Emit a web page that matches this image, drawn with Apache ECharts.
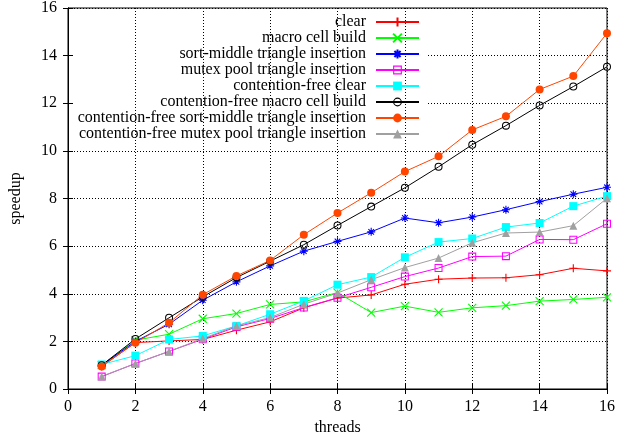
<!DOCTYPE html>
<html>
<head>
	<meta charset="utf-8">
	<title>speedup</title>
	<script type="text/javascript" src="https://cdn.jsdelivr.net/npm/echarts@6/dist/echarts.min.js"></script>
	<style>
		html, body { margin: 0; padding: 0; background: #fff; }
		#DIV1 { width: 618px; height: 441px; }
	</style>
</head>
<body>
	<div id="DIV1"></div>
	<script type="text/javascript">

		// values
		const threads = [1, 2, 3, 4, 5, 6, 7, 8, 9, 10, 11, 12, 13, 14, 15, 16];
		const clear = [0.95, 1.95, 2.02, 2.08, 2.47, 2.82, 3.41, 3.82, 3.95, 4.40, 4.61, 4.66, 4.67, 4.80, 5.07, 4.96];
		const macroCellBuild = [1.0, 2.05, 2.30, 2.95, 3.17, 3.55, 3.66, 4.05, 3.21, 3.48, 3.22, 3.41, 3.50, 3.69, 3.76, 3.85];
		const sortMiddle = [1.0, 2.0, 2.72, 3.73, 4.50, 5.17, 5.79, 6.20, 6.60, 7.18, 6.98, 7.22, 7.53, 7.87, 8.18, 8.47];
		const mutexPool = [0.52, 1.07, 1.58, 2.09, 2.61, 2.96, 3.42, 3.83, 4.27, 4.72, 5.08, 5.56, 5.58, 6.28, 6.27, 6.94];
		const cfClear = [1.03, 1.40, 2.08, 2.23, 2.65, 3.14, 3.70, 4.38, 4.70, 5.53, 6.17, 6.32, 6.80, 6.97, 7.68, 8.10];
		const cfMacroCellBuild = [1.0, 2.10, 2.99, 3.87, 4.68, 5.37, 6.06, 6.87, 7.66, 8.45, 9.33, 10.26, 11.06, 11.91, 12.70, 13.53];
		const cfSortMiddle = [0.95, 1.94, 2.78, 3.96, 4.75, 5.40, 6.48, 7.39, 8.24, 9.13, 9.77, 10.88, 11.45, 12.58, 13.14, 14.94];
		const cfMutexPool = [0.53, 1.07, 1.58, 2.12, 2.65, 3.00, 3.56, 4.03, 4.59, 5.10, 5.50, 6.14, 6.55, 6.59, 6.86, 8.01];

		const seriesNames = [
			"clear",
			"macro cell build",
			"sort-middle triangle insertion",
			"mutex pool triangle insertion",
			"contention-free clear",
			"contention-free macro cell build",
			"contention-free sort-middle triangle insertion",
			"contention-free mutex pool triangle insertion"
		];
		const seriesValues = [clear, macroCellBuild, sortMiddle, mutexPool, cfClear, cfMacroCellBuild, cfSortMiddle, cfMutexPool];
		const seriesColors = ["#ff0000", "#00ff00", "#0000ff", "#ff00ff", "#00ffff", "#000000", "#ff4500", "#a0a0a0"];

		// gnuplot-like point types
		const PLUS = "path://M5,0L5,10M0,5L10,5";
		const CROSS = "path://M0,0L10,10M10,0L0,10";
		const STAR = "path://M5,0L5,10M0,5L10,5M1.5,1.5L8.5,8.5M8.5,1.5L1.5,8.5";
		const BOX = "path://M0,0H10V10H0ZM1.3,1.3V8.7H8.7V1.3Z";
		const RING = "path://M5,0A5,5,0,1,1,5,10A5,5,0,1,1,5,0ZM5,1.3A3.7,3.7,0,1,0,5,8.7A3.7,3.7,0,1,0,5,1.3Z";
		const seriesSymbols = [PLUS, CROSS, STAR, BOX, "rect", RING, "circle", "triangle"];
		const strokedSymbol = [true, true, true, false, false, false, false, false];

		const FONT = "Liberation Serif";
		const FS = 16;
		const chart = echarts.init(document.getElementById("DIV1"));

		const series = seriesNames.map(function(name, i){
			return {
				name: name,
				type: "line",
				data: threads.map(function(t, k){ return [t, seriesValues[i][k]]; }),
				symbol: seriesSymbols[i],
				symbolSize: 8,
				showAllSymbol: true,
				lineStyle: { color: seriesColors[i], width: 1 },
				itemStyle: {
					color: seriesColors[i],
					borderColor: seriesColors[i],
					borderWidth: strokedSymbol[i] ? 1.1 : 0
				},
				emphasis: { disabled: true },
				z: 3
			};
		});

		const gridDash = { color: "#000", width: 1, type: [1, 2] };

		const option = {
			animation: false,
			backgroundColor: "#fff",
			textStyle: { fontFamily: FONT },
			grid: {
				left: 67, top: 7, right: 10, bottom: 52,
				show: true, borderColor: "#000", borderWidth: 1, backgroundColor: "transparent"
			},
			legend: {
				orient: "vertical",
				right: 193,
				top: 9,
				align: "right",
				itemWidth: 43,
				itemHeight: 11,
				itemGap: 0,
				textStyle: { fontFamily: FONT, fontSize: FS, color: "#000", lineHeight: 16, padding: [0, 5, 0, 0] },
				data: seriesNames,
				z: 5
			},
			graphic: [{
				type: "rect",
				z: 1,
				shape: { x: 73, y: 10, width: 354, height: 130 },
				style: { fill: "#fff" },
				silent: true
			}],
			xAxis: [{
				type: "value", position: "bottom", min: 0, max: 16, interval: 2, z: 2,
				name: "threads", nameLocation: "middle", nameGap: 31,
				nameTextStyle: { fontFamily: FONT, fontSize: FS, color: "#000" },
				axisLine: { show: true, lineStyle: { color: "#000", width: 1 } },
				axisTick: { show: true, inside: true, length: 5, lineStyle: { color: "#000" } },
				axisLabel: { fontFamily: FONT, fontSize: FS, color: "#000", margin: 10 },
				splitLine: { show: true, lineStyle: gridDash }
			}, {
				type: "value", position: "top", min: 0, max: 16, interval: 2, z: 2,
				axisLine: { show: true, lineStyle: { color: "#000", width: 1 } },
				axisTick: { show: true, inside: true, length: 5, lineStyle: { color: "#000" } },
				axisLabel: { show: false },
				splitLine: { show: false }
			}],
			yAxis: [{
				type: "value", position: "left", min: 0, max: 16, interval: 2, z: 0,
				name: "speedup", nameLocation: "middle", nameGap: 44, nameRotate: 90,
				nameTextStyle: { fontFamily: FONT, fontSize: FS, color: "#000" },
				axisLine: { show: true, lineStyle: { color: "#000", width: 1 } },
				axisTick: { show: true, inside: true, length: 5, lineStyle: { color: "#000" } },
				axisLabel: { fontFamily: FONT, fontSize: FS, color: "#000", margin: 11 },
				splitLine: { show: true, lineStyle: gridDash }
			}, {
				type: "value", position: "right", min: 0, max: 16, interval: 2, z: 2,
				axisLine: { show: true, lineStyle: { color: "#000", width: 1 } },
				axisTick: { show: true, inside: true, length: 5, lineStyle: { color: "#000" } },
				axisLabel: { show: false },
				splitLine: { show: false }
			}],
			series: series
		};

		chart.setOption(option);
	</script>
</body>
</html>
